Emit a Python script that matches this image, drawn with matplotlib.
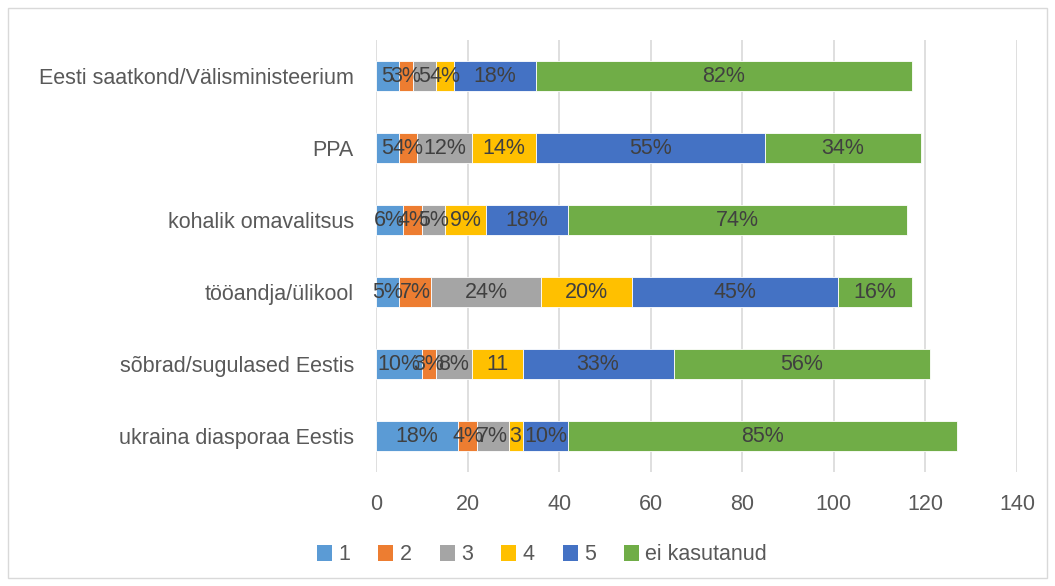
import matplotlib
matplotlib.use("Agg")
import matplotlib.pyplot as plt
from matplotlib.patches import Patch, Rectangle
import numpy as np

plt.rcParams['font.family'] = ['Liberation Sans', 'DejaVu Sans']

categories = ["Eesti saatkond/Välisministeerium", "PPA", "kohalik omavalitsus",
              "tööandja/ülikool", "sõbrad/sugulased Eestis", "ukraina diasporaa Eestis"]
series_names = ["1", "2", "3", "4", "5", "ei kasutanud"]
# values per series, in category order (top to bottom)
s1 = [5, 5, 6, 5, 10, 18]
s2 = [3, 4, 4, 7, 3, 4]
s3 = [5, 12, 5, 24, 8, 7]
s4 = [4, 14, 9, 20, 11, 3]
s5 = [18, 50, 18, 45, 33, 10]
s6 = [82, 34, 74, 16, 56, 85]
# data labels as shown
l1 = ["5", "5", "6%", "5%", "10%", "18%"]
l2 = ["3%", "4%", "4%", "7%", "3%", "4%"]
l3 = ["5", "12%", "5%", "24%", "8%", "7%"]
l4 = ["4%", "14%", "9%", "20%", "11", "3"]
l5 = ["18%", "55%", "18%", "45%", "33%", "10%"]
l6 = ["82%", "34%", "74%", "16%", "56%", "85%"]
xticks = [0, 20, 40, 60, 80, 100, 120, 140]

colors = ["#5B9BD5", "#ED7D31", "#A5A5A5", "#FFC000", "#4472C4", "#70AD47"]
series = [s1, s2, s3, s4, s5, s6]
labels = [l1, l2, l3, l4, l5, l6]

FS = 15.5
W, H = 1055, 586
fig = plt.figure(figsize=(W / 100, H / 100), dpi=100)
ax = fig.add_axes([376 / W, 1 - 472 / H, (1017 - 376) / W, (472 - 40) / H])

y = np.arange(len(categories))
left = np.zeros(len(categories))
for vals, col, labs, name in zip(series, colors, labels, series_names):
    vals = np.array(vals, dtype=float)
    ax.barh(y, vals, left=left, height=0.41, color=col, edgecolor="white",
            linewidth=0.6, label=name, zorder=3)
    for yi, l, v, lab in zip(y, left, vals, labs):
        ax.text(l + v / 2, yi, lab, ha="center", va="center", fontsize=FS,
                color="#404040", zorder=4)
    left += vals

ax.set_ylim(len(categories) - 0.5, -0.5)
ax.set_xlim(0, 140)
ax.set_xticks(xticks)
ax.set_xticklabels([str(t) for t in xticks])
ax.set_yticks(y)
ax.set_yticklabels(categories)
ax.tick_params(axis="x", length=0, pad=16, labelsize=FS, labelcolor="#595959")
ax.tick_params(axis="y", length=0, pad=16, labelsize=FS, labelcolor="#595959")
ax.grid(axis="x", color="#D9D9D9", linewidth=1.2, zorder=0)
for sp in ax.spines.values():
    sp.set_visible(False)

handles = [Patch(facecolor=c, edgecolor="none") for c in colors]
fig.legend(handles, series_names, loc="center", ncol=6,
           bbox_to_anchor=(542 / W, 1 - 555 / H), frameon=False,
           fontsize=FS, labelcolor="#595959", handlelength=0.7, handleheight=0.7,
           handletextpad=0.3, columnspacing=1.3)

fig.patches.append(Rectangle((8 / W, 8 / H), (1047 - 8) / W, (578 - 8) / H,
                             transform=fig.transFigure, fill=False,
                             edgecolor="#D9D9D9", linewidth=1))

fig.savefig("out.png", dpi=100)
